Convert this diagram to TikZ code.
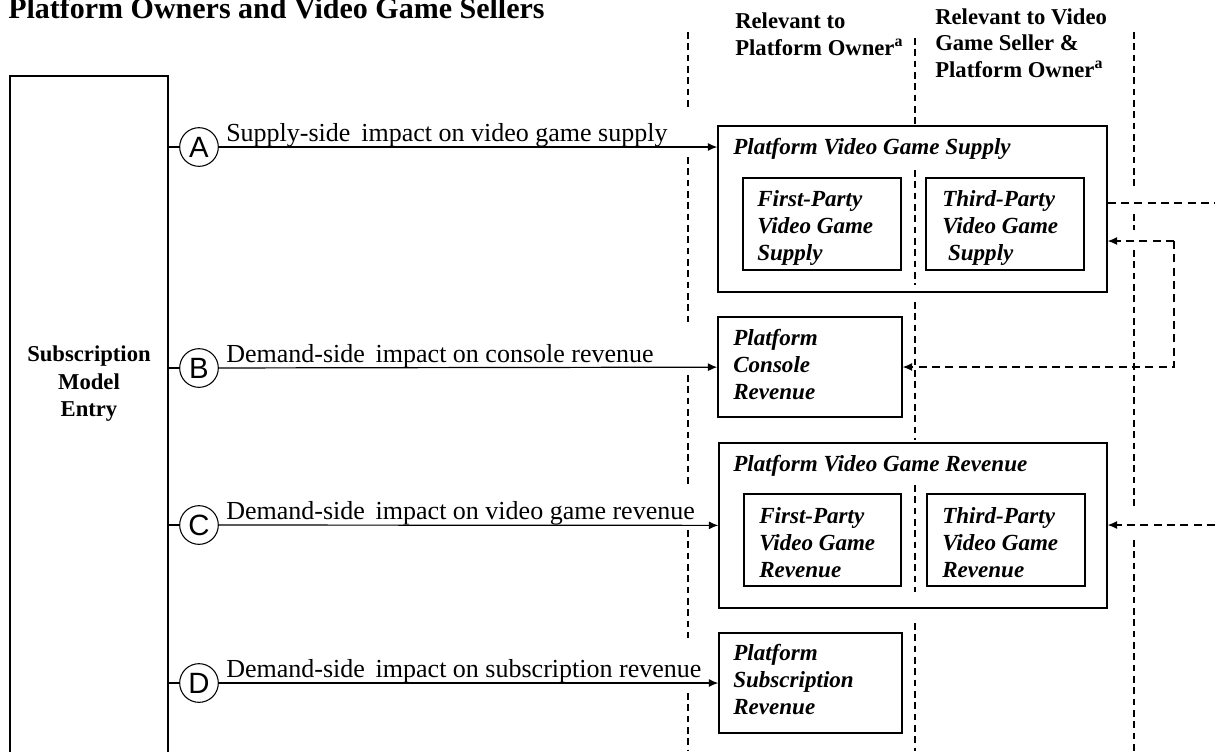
\documentclass[tikz,border=0pt]{standalone}
\usepackage{fontspec}
\setmainfont{Liberation Serif}
\newfontfamily\circfont{Liberation Sans}
\usetikzlibrary{arrows.meta,fit,positioning}

\begin{document}
\begin{tikzpicture}[x=0.75pt,y=0.75pt,yscale=-1,xscale=1,
  box/.style={draw, line width=1.1pt, inner sep=0pt},
  letter/.style={draw, circle, line width=0.8pt, inner sep=0pt, minimum size=29pt, font=\circfont\fontsize{22}{22}\selectfont},
  impact/.style={font=\fontsize{19.5}{22}\selectfont, anchor=base west, inner sep=0pt},
  boxtext/.style={font=\bfseries\itshape\fontsize{17.3}{20.25}\selectfont, anchor=base west, inner sep=0pt, align=left},
  head/.style={font=\bfseries\fontsize{17}{19.8}\selectfont, anchor=base west, inner sep=0pt, align=left},
  flow/.style={line width=0.9pt, -{Latex[length=7pt,width=6pt]}},
  guide/.style={line width=0.8pt, dash pattern=on 5pt off 3.5pt},
  back/.style={line width=0.8pt, dash pattern=on 6pt off 4pt, -{Latex[length=7pt,width=6pt]}},
]
\useasboundingbox (0,0) rectangle (1215,751);

% Title (cut at the top)
\node[font=\bfseries\fontsize{22.5}{27}\selectfont, anchor=base west, inner sep=0pt] (title) at (8,18) {Platform Owners and Video Game Sellers};

% Column heads (base = last line)
\node[head] (headowner) at (735,55) {Relevant to\\Platform Owner\textsuperscript{a}};
\node[head] (headseller) at (935,77) {Relevant to Video\\Game Seller \&\\Platform Owner\textsuperscript{a}};

%Shape: Dashed column rules
\draw[guide] (688,32) -- (688,107);
\draw[guide] (688,157) -- (688,325);
\draw[guide] (688,375) -- (688,485);
\draw[guide] (688,530) -- (688,638);
\draw[guide] (688,693) -- (688,751);
\draw[guide] (915,38) -- (915,124);
\draw[guide] (915,170) -- (915,285);
\draw[guide] (915,302) -- (915,440);
\draw[guide] (915,485) -- (915,592);
\draw[guide] (915,623) -- (915,751);
\draw[guide] (1134,32) -- (1134,190);
\draw[guide] (1134,214) -- (1134,230);
\draw[guide] (1134,250) -- (1134,507);
\draw[guide] (1134,540) -- (1134,751);

%Shape: Entry box
\node[box, fit={(10,76) (168,765)}] (entrybox) {};
\node[font=\bfseries\fontsize{17}{20.6}\selectfont, align=center] (entry) at (89,384) {Subscription\\Model\\Entry};

%Shape: Outcome boxes
\node[box, fit={(718,126) (1107,292)}] (supply) {};
\node[box, fit={(743,178) (901,270)}] (firstsup) {};
\node[box, fit={(926,178) (1084,270)}] (thirdsup) {};
\node[box, fit={(718,317) (902,417)}] (console) {};
\node[box, fit={(719,443) (1107,608)}] (vgrev) {};
\node[box, fit={(744,494) (901,586)}] (firstrev) {};
\node[box, fit={(927,494) (1085,586)}] (thirdrev) {};
\node[box, fit={(719,633) (902,733)}] (subrev) {};

% Text Node (base = last line)
\node[boxtext] (supplytitle) at (733,154) {Platform Video Game Supply};
\node[boxtext] (firstsuptext) at (757,260) {First-Party\\Video Game\\Supply};
\node[boxtext] (thirdsuptext) at (942,260) {Third-Party\\Video Game\\\hspace*{0.25em}Supply};
\node[boxtext] (consoletext) at (733,399) {Platform\\Console\\Revenue};
\node[boxtext] (vgrevtitle) at (733,471) {Platform Video Game Revenue};
\node[boxtext] (firstrevtext) at (759,577) {First-Party\\Video Game\\Revenue};
\node[boxtext] (thirdrevtext) at (942,577) {Third-Party\\Video Game\\Revenue};
\node[boxtext] (subrevtext) at (733,714) {Platform\\Subscription\\Revenue};

%Shape: Impact channels
\node[letter] (a) at (199,147) {A};
\node[letter] (b) at (199,368) {B};
\node[letter] (c) at (199,525) {C};
\node[letter] (d) at (199,683) {D};
\draw[line width=0.9pt] (entrybox.east |- a) -- (a);
\draw[line width=0.9pt] (entrybox.east |- b) -- (b);
\draw[line width=0.9pt] (entrybox.east |- c) -- (c);
\draw[line width=0.9pt] (entrybox.east |- d) -- (d);
\draw[flow] (a) -- (a -| supply.west);
\draw[flow] (b) -- (console);
\draw[flow] (c) -- (vgrev);
\draw[flow] (d) -- (subrev);
\node[impact] (impacta) at (226,141) {Supply-side\, impact on video game supply};
\node[impact] (impactb) at (226,362) {Demand-side\, impact on console revenue};
\node[impact] (impactc) at (226,519) {Demand-side\, impact on video game revenue};
\node[impact] (impactd) at (226,677) {Demand-side\, impact on subscription revenue};

%Shape: Feedback links
\coordinate (spill) at (1215,203);
\draw[back, -] (spill -| supply.east) -- (spill);
\coordinate (fork) at (1174,241);
\draw[back] (fork) -- (fork -| supply.east);
\draw[back] (fork) |- (console.east);
\coordinate (vgin) at (1215,525);
\draw[back] (vgin) -- (vgin -| vgrev.east);

\end{tikzpicture}
\end{document}
